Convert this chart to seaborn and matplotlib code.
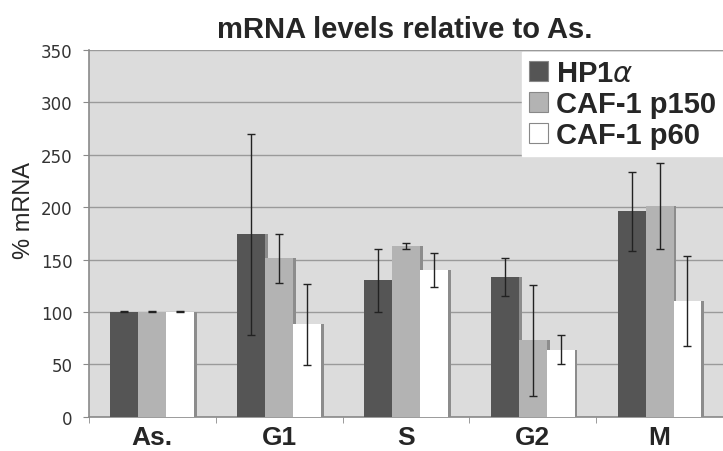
import numpy as np
import pandas as pd
import matplotlib
matplotlib.use("Agg")
import matplotlib.pyplot as plt
import matplotlib.patheffects as pe
import seaborn as sns

# Data
PHASES   = ["As.", "G1", "S", "G2", "M"]
GENES    = ["HP1$\\alpha$", "CAF-1 p150", "CAF-1 p60"]
HP1A     = [100, 174, 130, 133, 196]
P150     = [100, 151, 163, 73, 201]
P60      = [100, 88, 140, 64, 110]
HP1A_ERR = [0.5, 96, 30, 18, 38]
P150_ERR = [0.5, 23, 3, 53, 41]
P60_ERR  = [0.5, 39, 16, 14, 43]
COLORS   = ["#555555", "#b3b3b3", "#ffffff"]

df = pd.DataFrame({
    "phase": PHASES * 3,
    "gene":  [g for g in GENES for _ in PHASES],
    "value": HP1A + P150 + P60,
    "err":   HP1A_ERR + P150_ERR + P60_ERR,
})

sns.set_style("white")
plt.rcParams["font.family"] = ["Liberation Sans", "DejaVu Sans"]

fig = plt.figure(figsize=(7.23, 4.52), dpi=100)
ax = fig.add_axes([0.123, 0.076, 0.877, 0.811])
ax.set_facecolor("#dcdcdc")

sns.barplot(data=df, x="phase", y="value", hue="gene", order=PHASES,
            hue_order=GENES, palette=COLORS, width=0.66, errorbar=None,
            saturation=1, linewidth=0, ax=ax, zorder=3)

# shadow on bars + error bars at bar centres
bars = [p for p in ax.patches if p.get_height() > 0][:len(df)]
for i, bar in enumerate(bars):
    bar.set_path_effects([pe.SimplePatchShadow(offset=(2, 0), shadow_rgbFace="#8c8c8c", alpha=1),
                          pe.Normal()])
    row = df.iloc[i]
    xc = bar.get_x() + bar.get_width() / 2
    ax.errorbar(xc, row["value"], yerr=row["err"], fmt="none", ecolor="#222222",
                elinewidth=1, capsize=3, capthick=1, zorder=5)

ax.set_ylim(0, 350)
ax.set_xlim(-0.5, 4.5)
ax.set_yticks(np.arange(0, 351, 50))
ax.yaxis.grid(True, color="#9a9a9a", lw=1)
ax.set_axisbelow(True)
for s in ["top", "right"]:
    ax.spines[s].set_visible(False)
for s in ["left", "bottom"]:
    ax.spines[s].set_color("#8a8a8a")
    ax.spines[s].set_linewidth(1.2)

ax.tick_params(axis="y", labelsize=12, length=4, color="#8a8a8a", left=True,
               labelcolor="#333333", labelfontfamily="DejaVu Sans", pad=8)
ax.tick_params(axis="x", which="major", length=0, labelsize=19, pad=6)
for lbl in ax.get_xticklabels():
    lbl.set_fontweight("bold")
ax.set_xticks(np.arange(-0.5, 5, 1), minor=True)
ax.tick_params(axis="x", which="minor", length=4, color="#8a8a8a", bottom=True)

ax.set_xlabel("")
ax.set_ylabel("% mRNA", fontsize=17)
ax.yaxis.set_label_coords(-0.085, 0.566)
fig.text(0.56, 1 - 38 / 452, "mRNA levels relative to As.", fontsize=21,
         fontweight="bold", ha="center", va="baseline")

leg = ax.legend(loc="upper right", bbox_to_anchor=(1.0, 0.995), borderaxespad=0,
                frameon=True, fancybox=False, framealpha=1, edgecolor="white",
                prop={"size": 21, "weight": "bold"}, handlelength=0.65,
                handleheight=0.65, handletextpad=0.25, labelspacing=0.1,
                borderpad=0.25)
for h in leg.legend_handles:
    h.set_edgecolor("#888888")
    h.set_linewidth(0.8)
    h.set_path_effects([])

fig.savefig("out.png", dpi=100)
